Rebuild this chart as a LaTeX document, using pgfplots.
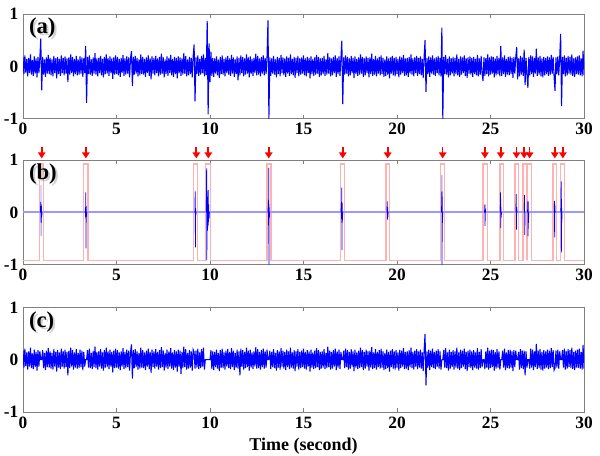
\documentclass[border=0pt]{standalone}
\usepackage{fontspec}
\setmainfont{Liberation Serif}
\usepackage{pgfplots}
\pgfplotsset{compat=1.18}
\usetikzlibrary{arrows.meta}
\pgfplotsset{
  panel/.style={
    scale only axis, width=420.75pt, height=78.5pt, anchor=north west,
    xmin=0, xmax=30, ymin=-1, ymax=1,
    xtick={0,5,10,15,20,25,30}, ytick={-1,0,1},
    tick align=inside, major tick length=3pt,
    axis line style={black!50, line width=0.6pt},
    tick style={black!50, line width=0.6pt},
    /pgf/number format/assume math mode=true,
    tick label style={font=\fontsize{13}{13}\selectfont\bfseries},
  },
  sig/.style={blue, line width=0.8pt},
  burst/.style={blue, line width=0.55pt},
}
\newcommand{\plabel}[1]{%
  \node[font=\fontsize{17}{17}\selectfont\bfseries, anchor=north west, inner sep=0pt, text=black, opacity=0.18] at (rel axis cs:0,1) [xshift=5.9pt, yshift=-4.4pt] {#1};
  \node[font=\fontsize{17}{17}\selectfont\bfseries, anchor=north west, inner sep=0pt, text=black] at (rel axis cs:0,1) [xshift=4.3pt, yshift=-2.8pt] {#1};
}
\begin{document}
\begin{tikzpicture}
\useasboundingbox (0,0) rectangle (450pt,-342pt);
% ---------------- (a) raw signal ----------------
\begin{axis}[panel, at={(17.25pt,-10.5pt)}]
\addplot[sig] table[x expr=\coordindex/20, y index=0, header=false, row sep=\\] {
0.17\\-0.15\\0.21\\-0.12\\0.14\\-0.19\\0.16\\-0.13\\0.23\\-0.16\\0.12\\-0.18\\0.19\\-0.14\\0.15\\-0.21\\0.18\\-0.13\\0.16\\0.53\\
-0.46\\0.18\\-0.16\\0.13\\-0.2\\0.17\\-0.14\\0.22\\-0.15\\0.16\\-0.17\\0.13\\-0.19\\0.2\\-0.13\\0.15\\-0.23\\0.18\\-0.15\\0.14\\
-0.18\\0.21\\-0.13\\0.16\\-0.17\\0.19\\-0.14\\0.15\\-0.3\\0.17\\-0.16\\0.23\\-0.13\\0.18\\-0.19\\0.14\\-0.15\\0.2\\-0.17\\0.13\\
-0.16\\0.19\\-0.14\\0.17\\-0.2\\0.15\\-0.13\\0.39\\-0.7\\0.18\\-0.15\\0.21\\-0.16\\0.13\\-0.18\\0.17\\-0.14\\0.25\\-0.16\\0.15\\
-0.19\\0.16\\-0.13\\0.2\\-0.17\\0.14\\-0.21\\0.18\\-0.15\\0.23\\-0.14\\0.16\\-0.18\\0.19\\-0.13\\0.15\\-0.24\\0.17\\-0.16\\0.21\\
-0.15\\0.18\\-0.17\\0.14\\-0.2\\0.16\\-0.13\\0.22\\-0.18\\0.15\\-0.16\\0.19\\-0.14\\0.17\\-0.21\\0.15\\0.29\\-0.38\\0.18\\-0.16\\
0.2\\-0.14\\0.16\\-0.19\\0.13\\-0.17\\0.23\\-0.15\\0.18\\-0.16\\0.14\\-0.2\\0.17\\-0.13\\0.21\\-0.18\\0.15\\-0.25\\0.19\\-0.14\\
0.16\\-0.17\\0.2\\-0.13\\0.15\\-0.19\\0.18\\-0.16\\0.24\\-0.14\\0.17\\-0.21\\0.13\\-0.15\\0.19\\-0.18\\0.16\\-0.13\\0.22\\-0.17\\
0.14\\-0.2\\0.18\\-0.15\\0.16\\-0.23\\0.19\\-0.13\\0.17\\-0.18\\0.15\\-0.16\\0.25\\-0.14\\0.2\\-0.19\\0.13\\-0.17\\0.18\\-0.15\\
0.16\\-0.21\\0.19\\0.42\\-0.67\\0.17\\-0.15\\0.21\\-0.18\\0.14\\-0.16\\0.2\\-0.13\\0.23\\-0.19\\0.16\\-0.17\\0.87\\-0.92\\0.44\\
-0.3\\0.28\\-0.18\\0.16\\-0.2\\0.15\\-0.14\\0.19\\-0.17\\0.13\\-0.22\\0.18\\-0.15\\0.21\\-0.16\\0.14\\-0.19\\0.17\\-0.13\\0.2\\
-0.16\\0.15\\-0.18\\0.22\\-0.14\\0.17\\-0.2\\0.13\\-0.15\\0.19\\-0.27\\0.16\\-0.17\\0.21\\-0.13\\0.18\\-0.19\\0.15\\-0.16\\0.23\\
-0.14\\0.17\\-0.21\\0.19\\-0.15\\0.14\\-0.18\\0.16\\-0.13\\0.24\\-0.17\\0.2\\-0.16\\0.15\\-0.19\\0.18\\-0.14\\0.21\\-0.17\\0.16\\
-0.15\\0.19\\0.88\\-1.0\\0.17\\-0.18\\0.15\\-0.14\\0.2\\-0.16\\0.13\\-0.21\\0.18\\-0.15\\0.16\\-0.19\\0.22\\-0.13\\0.17\\-0.17\\
0.15\\-0.2\\0.19\\-0.14\\0.16\\-0.18\\0.23\\-0.15\\0.14\\-0.17\\0.18\\-0.22\\0.16\\-0.13\\0.2\\-0.19\\0.15\\-0.16\\0.17\\-0.14\\
0.21\\-0.17\\0.15\\-0.19\\0.18\\-0.13\\0.16\\-0.23\\0.19\\-0.15\\0.14\\-0.18\\0.17\\-0.16\\0.22\\-0.14\\0.18\\-0.2\\0.15\\-0.17\\
0.16\\-0.15\\0.2\\-0.18\\0.13\\-0.16\\0.25\\-0.14\\0.17\\-0.19\\0.15\\-0.17\\0.18\\-0.13\\0.21\\-0.2\\0.16\\-0.15\\0.19\\-0.18\\
0.15\\0.49\\-0.72\\0.17\\-0.16\\0.21\\-0.14\\0.18\\-0.19\\0.15\\-0.17\\0.2\\-0.13\\0.16\\-0.22\\0.19\\-0.15\\0.14\\-0.18\\0.17\\
-0.16\\0.23\\-0.14\\0.18\\-0.2\\0.15\\-0.17\\0.19\\-0.13\\0.16\\-0.21\\0.17\\-0.15\\0.24\\-0.18\\0.14\\-0.16\\0.2\\-0.19\\0.15\\
-0.14\\0.18\\-0.17\\0.21\\-0.15\\0.16\\-0.2\\0.13\\-0.18\\0.19\\-0.16\\0.15\\-0.23\\0.17\\-0.14\\0.2\\-0.17\\0.16\\-0.19\\0.18\\
-0.15\\0.14\\-0.21\\0.19\\-0.16\\0.17\\-0.13\\0.22\\-0.18\\0.15\\-0.17\\0.16\\-0.2\\0.18\\-0.14\\0.23\\-0.16\\0.15\\-0.19\\0.17\\
-0.13\\0.2\\-0.18\\0.16\\-0.15\\0.19\\-0.17\\0.14\\-0.22\\0.18\\0.5\\-0.49\\0.16\\-0.15\\0.19\\-0.2\\0.17\\-0.14\\0.21\\-0.16\\
0.15\\-0.18\\0.17\\-0.13\\0.2\\-0.17\\0.16\\-0.19\\0.74\\-1.0\\0.18\\-0.15\\0.22\\-0.16\\0.14\\-0.21\\0.19\\-0.17\\0.15\\-0.14\\
0.18\\-0.19\\0.16\\-0.15\\0.23\\-0.17\\0.14\\-0.2\\0.19\\-0.16\\0.17\\-0.13\\0.21\\-0.18\\0.15\\-0.22\\0.17\\-0.14\\0.19\\-0.16\\
0.16\\-0.2\\0.18\\-0.15\\0.14\\-0.17\\0.22\\-0.19\\0.15\\-0.16\\0.2\\-0.14\\-0.28\\0.17\\-0.18\\0.16\\-0.15\\0.23\\-0.19\\0.17\\
-0.16\\0.19\\-0.14\\0.18\\-0.21\\0.15\\-0.17\\0.2\\-0.15\\0.16\\-0.19\\0.39\\-0.18\\0.17\\-0.15\\0.21\\-0.2\\0.14\\-0.16\\0.18\\
-0.17\\0.19\\-0.15\\0.16\\-0.22\\0.18\\-0.14\\0.17\\0.37\\-0.25\\0.15\\-0.19\\0.2\\-0.16\\0.17\\-0.18\\0.32\\-0.36\\0.16\\-0.15\\
-0.41\\0.18\\-0.17\\0.21\\-0.15\\0.19\\-0.2\\0.16\\-0.14\\0.34\\-0.18\\0.17\\-0.16\\0.2\\-0.19\\0.15\\-0.21\\0.18\\-0.17\\0.16\\
-0.15\\0.19\\-0.18\\0.17\\-0.16\\0.22\\-0.14\\0.18\\-0.2\\-0.47\\0.17\\-0.15\\0.19\\-0.17\\0.16\\0.62\\-0.76\\0.18\\-0.15\\0.21\\
-0.19\\0.16\\-0.17\\0.2\\-0.14\\0.18\\-0.16\\0.23\\-0.18\\0.15\\-0.2\\0.17\\-0.15\\0.19\\-0.16\\0.21\\-0.17\\0.15\\-0.19\\0.3\\
-0.17\\
};
\plabel{(a)}
\end{axis}
% ---------------- (b) detected segments ----------------
\begin{axis}[panel, at={(17.25pt,-120pt)}, clip=false]
\addplot[red!30, line width=1.1pt] coordinates {
(0,-0.92) (0.87,-0.92) (0.87,0.92) (1.09,0.92) (1.09,-0.92)
(3.23,-0.92) (3.23,0.92) (3.48,0.92) (3.48,-0.92)
(9.12,-0.92) (9.12,0.92) (9.34,0.92) (9.34,-0.92)
(9.77,-0.92) (9.77,0.92) (10.03,0.92) (10.03,-0.92)
(13.05,-0.92) (13.05,0.92) (13.27,0.92) (13.27,-0.92)
(16.98,-0.92) (16.98,0.92) (17.2,0.92) (17.2,-0.92)
(19.41,-0.92) (19.41,0.92) (19.61,0.92) (19.61,-0.92)
(22.34,-0.92) (22.34,0.92) (22.54,0.92) (22.54,-0.92)
(24.61,-0.92) (24.61,0.92) (24.84,0.92) (24.84,-0.92)
(25.5,-0.92) (25.5,0.92) (25.7,0.92) (25.7,-0.92)
(26.3,-0.92) (26.3,0.92) (26.5,0.92) (26.5,-0.92)
(26.75,-0.92) (26.75,0.92) (26.96,0.92) (26.96,-0.92)
(26.96,0.92) (27.2,0.92) (27.2,-0.92)
(28.35,-0.92) (28.35,0.92) (28.53,0.92) (28.53,-0.92)
(28.75,-0.92) (28.75,0.92) (28.95,0.92) (28.95,-0.92)
(30,-0.92)
};
\addplot[blue!40, line width=1.5pt] coordinates {(0,0) (30,0)};
\addplot[blue!45, line width=0.6pt] coordinates {(0.96,0) (0.965,0.52) (0.97,-0.45) (0.975,0)};
\addplot[burst] coordinates {(0.93,0) (0.95,0.2) (0.96,-0.18) (0.97,0.15) (0.98,-0.2) (0.99,0.12) (1.0,-0.1) (1.02,0)};
\addplot[burst] coordinates {(3.32,0) (3.34,0.1) (3.35,-0.12) (3.36,0.38) (3.37,-0.69) (3.38,0.12) (3.39,-0.08) (3.41,0)};
\addplot[burst] coordinates {(9.19,0) (9.21,0.4) (9.22,-0.67) (9.23,0.08) (9.24,-0.06) (9.26,0)};
\addplot[burst] coordinates {(9.8,0) (9.82,0.84) (9.83,-0.92) (9.85,0.3) (9.86,-0.35) (9.87,0.25) (9.88,-0.3) (9.9,0.43) (9.91,-0.25) (9.93,0.15) (9.95,-0.12) (9.97,0)};
\addplot[burst] coordinates {(13.1,0) (13.12,0.2) (13.13,-0.25) (13.14,0.85) (13.15,-1.0) (13.16,0.15) (13.17,-0.12) (13.19,0)};
\addplot[burst] coordinates {(17.0,0) (17.03,0.2) (17.04,-0.2) (17.05,0.47) (17.06,-0.72) (17.07,0.18) (17.08,-0.15) (17.1,0)};
\addplot[burst] coordinates {(19.46,0) (19.48,0.21) (19.49,-0.14) (19.5,0.1) (19.51,-0.1) (19.53,0)};
\addplot[blue!45, line width=0.6pt] coordinates {(22.39,0) (22.4,0.71) (22.41,0)};
\addplot[burst] coordinates {(22.38,0) (22.4,0.4) (22.41,-1.0) (22.42,0.3) (22.43,-0.2) (22.45,0)};
\addplot[burst] coordinates {(24.68,0) (24.7,0.15) (24.71,-0.26) (24.72,0.08) (24.74,0)};
\addplot[burst] coordinates {(25.52,0) (25.54,0.38) (25.55,-0.3) (25.56,0.1) (25.57,-0.1) (25.59,0)};
\addplot[burst] coordinates {(26.36,0) (26.38,0.35) (26.39,-0.33) (26.4,0.1) (26.42,0)};
\addplot[burst] coordinates {(26.8,0) (26.82,0.33) (26.83,-0.43) (26.85,0)};
\addplot[burst] coordinates {(26.98,0) (27.0,0.22) (27.01,-0.46) (27.02,0.2) (27.03,-0.2) (27.05,0)};
\addplot[burst] coordinates {(28.4,0) (28.42,0.22) (28.43,-0.48) (28.44,0.15) (28.46,0)};
\addplot[burst] coordinates {(28.76,0) (28.78,0.59) (28.79,-0.77) (28.8,0.25) (28.81,-0.2) (28.83,0)};
\addplot[red, line width=1.3pt, -{Triangle[length=4.5pt,width=5.5pt]}, quiver={u=0, v=-0.21}] coordinates {
(1.0,1.24) (3.36,1.24) (9.27,1.24) (9.91,1.24) (13.14,1.24) (17.1,1.24) (19.5,1.24) (22.44,1.24)
(24.7,1.24) (25.55,1.24) (26.39,1.24) (26.8,1.24) (27.09,1.24) (28.44,1.24) (28.87,1.24)
};
\plabel{(b)}
\end{axis}
% ---------------- (c) cleaned signal ----------------
\begin{axis}[panel, at={(17.25pt,-230.5pt)},
  xlabel={Time (second)},
  xlabel style={font=\fontsize{13.5}{14}\selectfont\bfseries}]
\addplot[sig] table[x expr=\coordindex/20, y index=0, header=false, row sep=\\] {
0.17\\-0.15\\0.21\\-0.12\\0.14\\-0.19\\0.16\\-0.13\\0.23\\-0.16\\0.12\\-0.18\\0.19\\-0.14\\0.15\\-0.21\\0.18\\-0.13\\0.16\\0\\
0\\0.18\\-0.16\\0.13\\-0.2\\0.17\\-0.14\\0.22\\-0.15\\0.16\\-0.17\\0.13\\-0.19\\0.2\\-0.13\\0.15\\-0.23\\0.18\\-0.15\\0.14\\
-0.18\\0.21\\-0.13\\0.16\\-0.17\\0.19\\-0.14\\0.15\\-0.3\\0.17\\-0.16\\0.23\\-0.13\\0.18\\-0.19\\0.14\\-0.15\\0.2\\-0.17\\0.13\\
-0.16\\0.19\\-0.14\\0.17\\-0.2\\0.15\\-0.13\\0\\0\\0.18\\-0.15\\0.21\\-0.16\\0.13\\-0.18\\0.17\\-0.14\\0.25\\-0.16\\0.15\\
-0.19\\0.16\\-0.13\\0.2\\-0.17\\0.14\\-0.21\\0.18\\-0.15\\0.23\\-0.14\\0.16\\-0.18\\0.19\\-0.13\\0.15\\-0.24\\0.17\\-0.16\\0.21\\
-0.15\\0.18\\-0.17\\0.14\\-0.2\\0.16\\-0.13\\0.22\\-0.18\\0.15\\-0.16\\0.19\\-0.14\\0.17\\-0.21\\0.15\\0.29\\-0.36\\0.18\\-0.16\\
0.2\\-0.14\\0.16\\-0.19\\0.13\\-0.17\\0.23\\-0.15\\0.18\\-0.16\\0.14\\-0.2\\0.17\\-0.13\\0.21\\-0.18\\0.15\\-0.25\\0.19\\-0.14\\
0.16\\-0.17\\0.2\\-0.13\\0.15\\-0.19\\0.18\\-0.16\\0.24\\-0.14\\0.17\\-0.21\\0.13\\-0.15\\0.19\\-0.18\\0.16\\-0.13\\0.22\\-0.17\\
0.14\\-0.2\\0.18\\-0.15\\0.16\\-0.23\\0.19\\-0.13\\0.17\\-0.27\\0.15\\-0.16\\0.25\\-0.14\\0.2\\-0.19\\0.13\\-0.17\\0.18\\-0.15\\
0.16\\-0.21\\0.19\\0.15\\-0.17\\0.17\\-0.15\\0.21\\-0.18\\0.14\\-0.16\\0.2\\-0.13\\0.23\\-0.19\\0\\0\\0\\0\\0\\
0\\0.18\\-0.18\\0.16\\-0.2\\0.15\\-0.14\\0.19\\-0.17\\0.13\\-0.22\\0.18\\-0.15\\0.21\\-0.16\\0.14\\-0.19\\0.17\\-0.13\\0.2\\
-0.16\\0.15\\-0.18\\0.22\\-0.14\\0.17\\-0.2\\0.13\\-0.15\\0.19\\-0.17\\0.16\\-0.3\\0.21\\-0.13\\0.18\\-0.19\\0.15\\-0.16\\0.23\\
-0.14\\0.17\\-0.21\\0.19\\-0.15\\0.14\\-0.18\\0.16\\-0.13\\0.24\\-0.17\\0.2\\-0.16\\0.15\\-0.19\\0.18\\-0.14\\0.21\\-0.17\\0.16\\
-0.15\\0.19\\0\\0\\0.17\\-0.18\\0.15\\-0.14\\0.2\\-0.16\\0.13\\-0.21\\0.18\\-0.15\\0.16\\-0.19\\0.22\\-0.13\\0.17\\-0.17\\
0.15\\-0.2\\0.19\\-0.14\\0.16\\-0.18\\0.23\\-0.15\\0.14\\-0.17\\0.18\\-0.22\\0.16\\-0.13\\0.2\\-0.19\\0.15\\-0.16\\0.17\\-0.14\\
0.21\\-0.17\\0.15\\-0.19\\0.18\\-0.13\\0.16\\-0.23\\0.19\\-0.15\\0.14\\-0.18\\0.17\\-0.16\\0.22\\-0.14\\0.18\\-0.2\\0.15\\-0.17\\
0.16\\-0.15\\0.2\\-0.18\\0.13\\-0.16\\0.25\\-0.14\\0.17\\-0.19\\0.15\\-0.17\\0.18\\-0.13\\0.21\\-0.2\\0.16\\-0.15\\0.19\\-0.18\\
0.15\\0\\0\\0.17\\-0.16\\0.21\\-0.14\\0.18\\-0.19\\0.15\\-0.17\\0.2\\-0.13\\0.16\\-0.22\\0.19\\-0.15\\0.14\\-0.18\\0.17\\
-0.16\\0.23\\-0.14\\0.18\\-0.2\\0.15\\-0.17\\0.19\\-0.13\\0.16\\-0.21\\0.17\\-0.15\\0.24\\-0.18\\0.14\\-0.16\\0.2\\-0.19\\0.15\\
-0.14\\0.18\\-0.17\\0.21\\-0.15\\0.16\\-0.2\\0.13\\-0.18\\0.19\\-0.16\\0.15\\-0.23\\0.17\\-0.14\\0.2\\-0.17\\0.16\\-0.19\\0.18\\
-0.15\\0.14\\-0.21\\0.19\\-0.16\\0.17\\-0.13\\0.22\\-0.18\\0.15\\-0.17\\0.16\\-0.2\\0.18\\-0.14\\0.23\\-0.16\\0.15\\-0.19\\0.17\\
-0.13\\0.2\\-0.18\\0.16\\-0.15\\0.19\\-0.17\\0.14\\-0.22\\0.18\\0.49\\-0.49\\0.16\\-0.15\\0.19\\-0.2\\0.17\\-0.14\\0.21\\-0.16\\
0.15\\-0.18\\0.17\\-0.13\\0.2\\-0.17\\0.16\\-0.19\\0\\0\\0.18\\-0.15\\0.22\\-0.16\\0.14\\-0.21\\0.19\\-0.17\\0.15\\-0.14\\
0.18\\-0.19\\0.16\\-0.15\\0.23\\-0.17\\0.14\\-0.2\\0.19\\-0.16\\0.17\\-0.13\\0.21\\-0.18\\0.15\\-0.22\\0.17\\-0.14\\0.19\\-0.16\\
0.16\\-0.2\\0.18\\-0.15\\0.14\\-0.17\\0.22\\-0.19\\0.15\\-0.16\\0.2\\-0.14\\0\\0\\-0.18\\0.16\\-0.15\\0.23\\-0.19\\0.17\\
-0.16\\0.19\\-0.14\\0.18\\-0.21\\0.15\\-0.17\\0.2\\-0.15\\0.16\\-0.19\\0\\0\\0.17\\-0.15\\0.21\\-0.2\\0.14\\-0.16\\0.18\\
-0.17\\0.19\\-0.15\\0.16\\-0.22\\0.18\\-0.14\\0.17\\0\\0\\0.15\\-0.19\\0.2\\-0.16\\0.17\\-0.18\\0.17\\-0.3\\0.16\\-0.15\\
0\\0\\-0.17\\0.21\\-0.15\\0.19\\-0.2\\0.16\\-0.14\\0.3\\-0.18\\0.17\\-0.16\\0.2\\-0.19\\0.15\\-0.21\\0.18\\-0.17\\0.16\\
-0.15\\0.19\\-0.18\\0.17\\-0.16\\0.22\\-0.14\\0.18\\-0.2\\-0.16\\0.17\\-0.15\\0.19\\-0.17\\0.16\\0\\0\\0.18\\-0.15\\0.21\\
-0.19\\0.16\\-0.17\\0.2\\-0.14\\0.18\\-0.16\\0.23\\-0.18\\0.15\\-0.2\\0.17\\-0.15\\0.19\\-0.16\\0.21\\-0.17\\0.15\\-0.19\\0.28\\
-0.17\\
};
\plabel{(c)}
\end{axis}
\end{tikzpicture}
\end{document}
